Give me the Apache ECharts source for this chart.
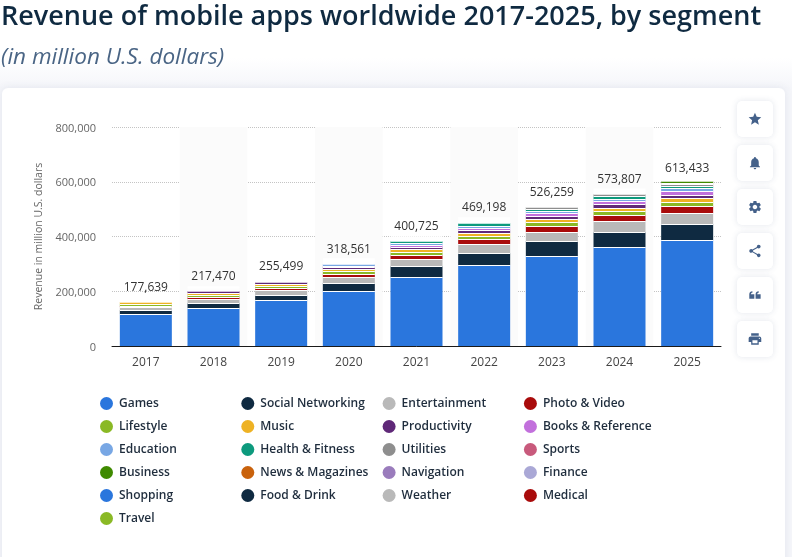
<!DOCTYPE html>
<html>
<head>
<meta charset="utf-8">
<title>Revenue of mobile apps</title>
<script src="https://cdn.jsdelivr.net/npm/echarts@6/dist/echarts.min.js"></script>
<style>
html, body { margin: 0; padding: 0; }
body { background: linear-gradient(#fff 58px, #f5f6fa 88px); }
#main { width: 792px; height: 557px; }
</style>
</head>
<body>
<div id="main"></div>
<script>
var years = ['2017','2018','2019','2020','2021','2022','2023','2024','2025'];
var totals = [177639,217470,255499,318561,400725,469198,526259,573807,613433];

var games = [116900,138810,168040,200910,252050,295890,328770,361640,387210];
var social = [14610,18260,18260,29220,40180,43830,54790,54790,58440];
var entertainment = [10960,14610,18260,21910,25570,32870,32870,40180,40180];
var photo = [3650,7300,7300,10960,14610,18260,21910,21910,25570];
var lifestyle = [7300,7300,7300,10960,10960,10960,14610,14610,14610];
var music = [7300,7300,7300,7300,10960,10960,10960,10960,14610];
var productivity = [1300,7300,7300,7300,7300,10960,10960,14610,10960];
var books = [1200,1300,1700,3650,7300,7300,10960,10960,14610];
var education = [1200,1300,1700,7300,7300,7300,7300,7300,10960];
var health = [1300,1300,1800,1800,7300,10960,7300,10960,7300];
var utilities = [1200,1400,1700,1900,1800,2100,7300,7300,7300];
var sports = [1200,1200,1600,1700,1700,2000,2100,2000,3650];
var business = [1300,1400,1900,1900,1900,2100,2200,2200,7300];
var news = [1300,1300,1700,1800,1700,2000,2100,2000,1700];
var navigation = [1100,1200,1600,1600,1600,1800,1900,1900,1400];
var finance = [1200,1300,1700,1700,1700,2000,2000,2000,1500];
var shopping = [1300,1400,1800,1800,1800,2100,2100,2100,1700];
var food = [1200,1300,1700,1700,1600,2000,2000,1900,1500];
var weather = [1000,1100,1400,1500,1500,1800,1800,1800,1200];
var medical = [1100,1200,1500,1600,1500,1900,1900,1900,1400];
var travel = [1300,1400,1800,1900,1700,2000,2000,2200,1700];

var segments = [
	['Games', games, '#2a76dd'],
	['Social Networking', social, '#0f2a41'],
	['Entertainment', entertainment, '#b9b9b9'],
	['Photo & Video', photo, '#a90b0b'],
	['Lifestyle', lifestyle, '#8ab925'],
	['Music', music, '#eeb224'],
	['Productivity', productivity, '#5f2878'],
	['Books & Reference', books, '#c270dc'],
	['Education', education, '#78a7e4'],
	['Health & Fitness', health, '#0d9a7d'],
	['Utilities', utilities, '#8e8e8e'],
	['Sports', sports, '#c85a7c'],
	['Business', business, '#3f8a00'],
	['News & Magazines', news, '#c9620c'],
	['Navigation', navigation, '#9a7cbc'],
	['Finance', finance, '#aaa8d6'],
	['Shopping', shopping, '#2a76dd'],
	['Food & Drink', food, '#0f2a41'],
	['Weather', weather, '#b9b9b9'],
	['Medical', medical, '#a90b0b'],
	['Travel', travel, '#8ab925']
];

var FONT = '"Open Sans", sans-serif';
var ICON = '#44618a';
var THIN = 3000; // below one pixel the white separator eats the whole segment

// sidebar icons, 24 unit paths
var icons = [
	'M12 17.27L18.18 21l-1.64-7.03L22 9.24l-7.19-.61L12 2 9.19 8.63 2 9.24l5.46 4.73L5.82 21z',
	'M12 22c1.1 0 2-.9 2-2h-4c0 1.1.89 2 2 2zm6-6v-5c0-3.07-1.64-5.64-4.5-6.32V4c0-.83-.67-1.5-1.5-1.5s-1.5.67-1.5 1.5v.68C7.63 5.36 6 7.92 6 11v5l-2 2v1h16v-1l-2-2z',
	'M19.14 12.94c.04-.3.06-.61.06-.94 0-.32-.02-.64-.07-.94l2.03-1.58c.18-.14.23-.41.12-.61l-1.92-3.32c-.12-.22-.37-.29-.59-.22l-2.39.96c-.5-.38-1.03-.7-1.62-.94l-.36-2.54c-.04-.24-.24-.41-.48-.41h-3.84c-.24 0-.43.17-.47.41l-.36 2.54c-.59.24-1.13.57-1.62.94l-2.39-.96c-.22-.08-.47 0-.59.22L2.74 8.87c-.12.21-.08.47.12.61l2.03 1.58c-.05.3-.09.63-.09.94s.02.64.07.94l-2.03 1.58c-.18.14-.23.41-.12.61l1.92 3.32c.12.22.37.29.59.22l2.39-.96c.5.38 1.03.7 1.62.94l.36 2.54c.05.24.24.41.48.41h3.84c.24 0 .44-.17.47-.41l.36-2.54c.59-.24 1.13-.56 1.62-.94l2.39.96c.22.08.47 0 .59-.22l1.92-3.32c.12-.22.07-.47-.12-.61l-2.01-1.58zM12 15.6c-1.98 0-3.6-1.62-3.6-3.6s1.62-3.6 3.6-3.6 3.6 1.62 3.6 3.6-1.62 3.6-3.6 3.6z',
	'M18 16.08c-.76 0-1.44.3-1.96.77L8.91 12.7c.05-.23.09-.46.09-.7s-.04-.47-.09-.7l7.05-4.11c.54.5 1.25.81 2.04.81 1.66 0 3-1.34 3-3s-1.34-3-3-3-3 1.34-3 3c0 .24.04.47.09.7L8.04 9.81C7.5 9.31 6.79 9 6 9c-1.66 0-3 1.34-3 3s1.34 3 3 3c.79 0 1.5-.31 2.04-.81l7.12 4.16c-.05.21-.08.43-.08.65 0 1.61 1.31 2.92 2.92 2.92s2.92-1.31 2.92-2.92-1.31-2.92-2.92-2.92z',
	'M11 18H3v-7c0-3 2-5 5-5v2.5c-1.5 0-2.5 1-2.5 2.5H11zM21 18h-8v-7c0-3 2-5 5-5v2.5c-1.5 0-2.5 1-2.5 2.5H21z',
	'M19 8H5c-1.66 0-3 1.34-3 3v6h4v4h12v-4h4v-6c0-1.66-1.34-3-3-3zm-3 11H8v-5h8v5zm3-7c-.55 0-1-.45-1-1s.45-1 1-1 1 .45 1 1-.45 1-1 1zm-1-9H6v4h12V3z'
];

icons.forEach(function (d, i) {
	echarts.graphic.registerShape('sideIcon' + i, echarts.graphic.extendPath(d, {}));
});

function buildGraphic(){
	var items = [{
		type: 'rect', z: 0,
		shape: { x: 2, y: 88, width: 783, height: 480, r: 6 },
		style: { fill: '#fff', shadowBlur: 8, shadowColor: 'rgba(60,80,120,0.10)' }
	}];
	for (var i = 0; i < icons.length; i++) {
		var top = 101 + i * 44;
		items.push({
			type: 'rect', z: 0,
			shape: { x: 737, y: top, width: 36, height: 36, r: 5 },
			style: { fill: '#fff', shadowBlur: 6, shadowColor: 'rgba(60,80,120,0.14)' }
		});
		items.push({
			type: 'sideIcon' + i, z: 1,
			x: 747.4, y: top + 10.4, scaleX: 0.63, scaleY: 0.63,
			style: { fill: ICON }
		});
	}
	items.push({
		type: 'text', z: 1, x: 1, y: 4,
		style: { text: 'Revenue of mobile apps worldwide 2017-2025, by segment', fill: '#0f2a41', font: '600 27px ' + FONT }
	});
	items.push({
		type: 'text', z: 1, x: 1, y: 46,
		style: { text: '(in million U.S. dollars)', fill: '#4a6585', font: 'italic 400 22.5px ' + FONT }
	});
	return items;
}

function buildOption(){
	var series = segments.map(function (s, idx) {
		var item = {
			name: s[0],
			type: 'bar',
			stack: 'revenue',
			barWidth: 52,
			data: s[1].map(function (v) {
				return v < THIN ? { value: v, itemStyle: { color: '#fff' } } : v;
			}),
			itemStyle: { color: s[2] }
		};
		if (idx > 0) {
			// one white row under each segment, bar borders would give two
			item.itemStyle.shadowColor = '#fff';
			item.itemStyle.shadowBlur = 0;
			item.itemStyle.shadowOffsetY = 1;
		}
		if (idx == segments.length - 1) {
			// totals sit on the top segment
			item.label = {
				show: true,
				position: 'top',
				distance: 3,
				color: '#333',
				fontFamily: FONT,
				fontSize: 12,
				formatter: function (p) {
					return echarts.format.addCommas(totals[p.dataIndex]);
				}
			};
		}
		return item;
	});

	return {
		animation: false,
		backgroundColor: 'transparent',
		textStyle: { fontFamily: FONT },
		graphic: buildGraphic(),
		grid: { left: 112, right: 71, top: 127, bottom: 211 },
		legend: {
			left: 95,
			top: 391,
			width: 640,
			orient: 'horizontal',
			icon: 'circle',
			itemWidth: 13,
			itemHeight: 13,
			itemGap: 8,
			selectedMode: false,
			textStyle: {
				color: '#1f2d3d',
				fontFamily: FONT,
				fontSize: 12,
				fontWeight: 600,
				width: 114.3,
				lineHeight: 15,
				overflow: 'none',
				padding: [0, 0, 0, 1]
			},
			data: segments.map(function (s) { return s[0]; })
		},
		xAxis: {
			type: 'category',
			data: years,
			axisTick: { show: false },
			axisLine: { lineStyle: { color: '#1a1a1a', width: 1 } },
			axisLabel: { color: '#444', fontSize: 12, margin: 11 },
			splitArea: { show: true, areaStyle: { color: ['rgba(255,255,255,0)', '#fbfbfb'] } }
		},
		yAxis: {
			type: 'value',
			min: 0,
			max: 800000,
			interval: 200000,
			name: 'Revenue in million U.S. dollars',
			nameLocation: 'middle',
			nameGap: 62,
			nameTextStyle: { color: '#666', fontSize: 10.5, fontFamily: FONT },
			axisLabel: {
				color: '#666',
				fontSize: 11,
				margin: 16,
				verticalAlign: 'top',
				padding: [-4, 0, 0, 0],
				formatter: function (v) { return echarts.format.addCommas(v); }
			},
			axisLine: { show: false },
			axisTick: { show: false },
			splitLine: { lineStyle: { color: '#c4c4c4', type: 'dotted', width: 1 } }
		},
		series: series
	};
}

var myChart = echarts.init(document.getElementById('main'), null, { renderer: 'canvas' });
myChart.setOption(buildOption(), true);
</script>
</body>
</html>
